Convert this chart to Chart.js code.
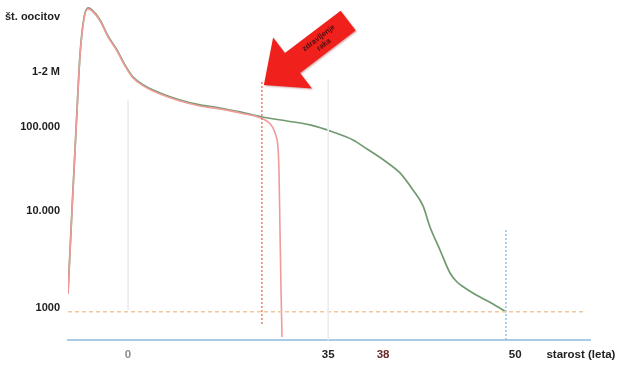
<!DOCTYPE html>
<html>
<head>
<meta charset="utf-8">
<script src="https://cdn.jsdelivr.net/npm/chart.js@4/dist/chart.umd.min.js"></script>
<style>
  html, body { margin: 0; padding: 0; background: #fff; }
  #wrap { width: 619px; height: 367px; }
</style>
</head>
<body>
<div id="wrap"><canvas id="c"></canvas></div>
<script>
// Age axis: schematic positions (not to scale) and their labels
const ageTickPos    = [0, 34.7, 44.2, 67.1, 78.5];
const ageTickLabels = ['0', '35', '38', '50', 'starost (leta)'];
const ageTickColors = ['#8c8c8c', '#222222', '#6b2a2a', '#222222', '#222222'];

// Oocyte count axis: schematic log levels and their labels
const countTickPos    = [3, 4, 4.866, 5.433, 6.0];
const countTickLabels = ['1000', '10.000', '100.000', '1-2 M', 'št. oocitov'];

// Normal decline of the oocyte pool
const normalX = [-10.40, -9.71, -9.01, -8.32, -7.63, -6.93, -6.24, -4.85, -3.47, -1.91, -0.52, 0.87, 2.95,
                 5.55, 9.01, 12.48, 15.94, 19.41, 23.22, 27.56, 31.54, 35.53, 39.00, 41.42, 44.54, 47.14,
                 49.39, 51.13, 52.34, 54.07, 55.81, 57.02, 58.93, 61.01, 63.26, 65.51];
const normalY = [3.155, 4.010, 4.835, 5.608, 5.990, 6.093, 6.072, 5.969, 5.804, 5.660, 5.505, 5.381, 5.289,
                 5.216, 5.144, 5.093, 5.062, 5.021, 4.969, 4.928, 4.887, 4.814, 4.732, 4.639, 4.515, 4.392,
                 4.216, 4.052, 3.835, 3.598, 3.361, 3.268, 3.186, 3.113, 3.041, 2.959];

// Collapse of the pool after treatment
const treatmentAge = 23.2;
const lossX = [24.26, 25.13, 25.65, 26.00, 26.17, 26.34, 26.52, 26.69];
const lossY = [4.918, 4.856, 4.774, 4.650, 4.413, 3.804, 3.186, 2.701];

// Guide lines
const menopauseLevel = 2.96;
const guide0  = [5.14, 2.98];
const guide35 = [5.35, 2.67];
const treatmentSpan = [5.33, 2.825];
const menopauseSpan = [3.804, 2.67];
const arrowTip = { x: 23.2, y: 5.30 };

const pts = (xs, ys) => xs.map((x, i) => ({ x, y: ys[i] }));
const normalPts = pts(normalX, normalY);
const lossPts = normalPts.filter(p => p.x < treatmentAge + 0.01).map(p => ({ x: p.x, y: p.y - 0.01 }))
  .concat(pts(lossX, lossY));

const line = (data, color, width, dash, extra) => Object.assign({
  data, borderColor: color, borderWidth: width, borderDash: dash || [],
  pointRadius: 0, fill: false, tension: 0
}, extra || {});

const arrowPlugin = {
  id: 'treatmentArrow',
  afterDatasetsDraw(chart) {
    const { ctx, scales } = chart;
    const tx = scales.x.getPixelForValue(arrowTip.x);
    const ty = scales.y.getPixelForValue(arrowTip.y);
    const ang = Math.atan2(-64, 84);
    ctx.save();
    ctx.translate(tx + 2, ty);
    ctx.rotate(ang);
    ctx.shadowColor = 'rgba(120,0,0,0.35)';
    ctx.shadowBlur = 2;
    ctx.shadowOffsetX = 1;
    ctx.shadowOffsetY = 1;
    ctx.beginPath();
    ctx.moveTo(0, 0);
    ctx.lineTo(36, -32);
    ctx.lineTo(36, -12.5);
    ctx.lineTo(106, -12.5);
    ctx.lineTo(106, 12.5);
    ctx.lineTo(36, 12.5);
    ctx.lineTo(36, 32);
    ctx.closePath();
    ctx.fillStyle = '#f0201c';
    ctx.fill();
    ctx.shadowColor = 'transparent';
    ctx.fillStyle = '#4a0f0f';
    ctx.font = 'bold 7.5px "Liberation Sans", Arial, sans-serif';
    ctx.textAlign = 'center';
    ctx.textBaseline = 'middle';
    ctx.fillText('zdravljenje', 72, -4);
    ctx.fillText('raka', 72, 4.5);
    ctx.restore();
  }
};

// Let the plot area reach the canvas edges; tick labels may overhang it
const noOverhang = s => { s.paddingTop = 0; s.paddingBottom = 0; s.paddingLeft = 0; s.paddingRight = 0; };

new Chart(document.getElementById('c'), {
  type: 'line',
  data: {
    datasets: [
      line([{ x: 0, y: guide0[0] }, { x: 0, y: guide0[1] }], '#ececec', 1),
      line([{ x: 34.7, y: guide35[0] }, { x: 34.7, y: guide35[1] }], '#ececec', 1),
      line([{ x: -10.4, y: menopauseLevel }, { x: 79.3, y: menopauseLevel }], '#f1c79e', 1.5, [4, 3]),
      line([{ x: treatmentAge, y: treatmentSpan[0] }, { x: treatmentAge, y: treatmentSpan[1] }], '#f0805a', 1.5, [2, 2]),
      line([{ x: 65.5, y: menopauseSpan[0] }, { x: 65.5, y: menopauseSpan[1] }], '#8fc0e6', 1.5, [2, 2]),
      line(lossPts, '#f09a9a', 1.6, [], { cubicInterpolationMode: 'monotone' }),
      line(normalPts, 'rgba(100,145,100,0.92)', 1.7, [], { cubicInterpolationMode: 'monotone' })
    ]
  },
  options: {
    responsive: true,
    maintainAspectRatio: false,
    animation: false,
    layout: { padding: { top: 0, right: 29, bottom: 0, left: 0 } },
    plugins: { legend: { display: false }, tooltip: { enabled: false } },
    scales: {
      x: {
        type: 'linear',
        min: -10.4,
        max: 80.07,
        grid: { display: false, drawTicks: false },
        border: { display: true, color: '#a9cbe6', width: 2 },
        afterBuildTicks: s => { s.ticks = ageTickPos.map(v => ({ value: v })); },
        afterFit: s => { s.height = 27; noOverhang(s); },
        ticks: {
          autoSkip: false,
          maxRotation: 0,
          padding: 8,
          color: ctx => ageTickColors[ctx.index],
          font: { family: '"Liberation Sans", Arial, sans-serif', size: 11.5, weight: 'bold' },
          callback: (v, i) => ageTickLabels[i]
        }
      },
      y: {
        type: 'linear',
        min: 2.67,
        max: 6.175,
        grid: { display: false, drawTicks: false },
        border: { display: false },
        afterBuildTicks: s => { s.ticks = countTickPos.map(v => ({ value: v })); },
        afterFit: s => { s.width = 68; noOverhang(s); },
        ticks: {
          autoSkip: false,
          padding: 8,
          color: '#1e1e1e',
          font: { family: '"Liberation Sans", Arial, sans-serif', size: 11, weight: 'bold' },
          callback: (v, i) => countTickLabels[i]
        }
      }
    }
  },
  plugins: [arrowPlugin]
});
</script>
</body>
</html>
